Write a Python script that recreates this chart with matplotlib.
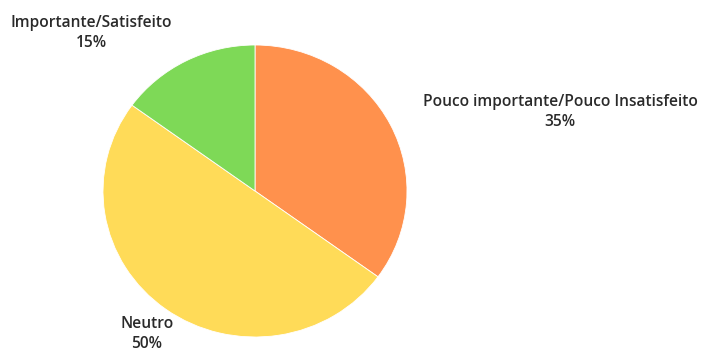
import matplotlib
matplotlib.use("Agg")
import matplotlib.pyplot as plt

labels = ["Pouco importante/Pouco Insatisfeito", "Neutro", "Importante/Satisfeito"]
shares = [35, 50, 15]
colors = ["#FF914D", "#FFDB58", "#7ED957"]
# label anchor (pixel x, pixel y from top) for each slice
label_pos = [(560, 112), (147, 334), (91, 33)]

W, H = 703, 351
RX, RY = 152, 146          # pie is drawn slightly squashed in the reference
CX, CY = 255, 191          # pie centre in pixels from top-left
sy = RX / RY

fig = plt.figure(figsize=(W / 100, H / 100), dpi=100)
ax = fig.add_axes([0, 0, 1, 1])

ax.pie(shares, colors=colors, startangle=90, counterclock=False,
       center=(CX, (H - CY) * sy), radius=RX,
       wedgeprops=dict(edgecolor="white", linewidth=0.6))
ax.set_xlim(0, W)
ax.set_ylim(0, H * sy)
ax.set_aspect("auto")
ax.axis("off")

for lab, val, (x, y) in zip(labels, shares, label_pos):
    fig.text(x / W, 1 - y / H, f"{lab}\n{val}%", ha="center", va="center",
             fontsize=11.2, family="Open Sans", fontweight="semibold",
             color="#2a2a2a", linespacing=1.35)

fig.savefig("out.png", dpi=100)
